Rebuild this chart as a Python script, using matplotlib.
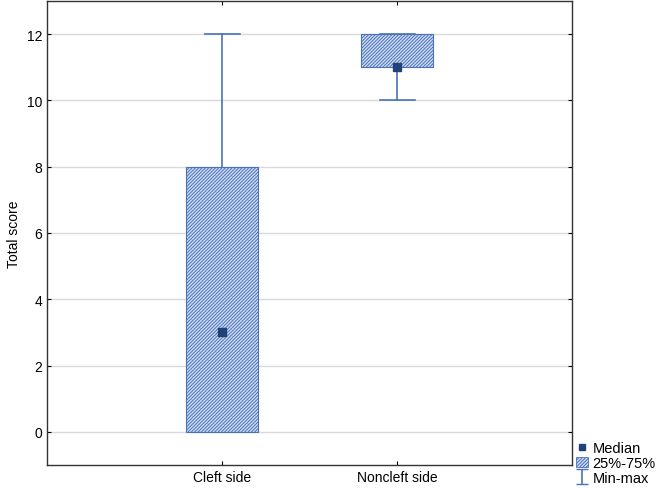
import matplotlib
matplotlib.use('Agg')
import matplotlib.pyplot as plt
from matplotlib.patches import Rectangle
from matplotlib.lines import Line2D

plt.rcParams['font.family'] = ['Liberation Sans', 'DejaVu Sans']
plt.rcParams['hatch.linewidth'] = 0.7

# data
groups = ['Cleft side', 'Noncleft side']
medians = [3, 11]
q1 = [0, 11]
q3 = [8, 12]
mins = [0, 10]
maxs = [12, 12]
yticks = [0, 2, 4, 6, 8, 10, 12]

edge = '#4a72b8'
fill = '#cfdcf3'
dark = '#1f4379'
hatch = '/' * 10

fig = plt.figure(figsize=(6.57, 4.89), dpi=100)
ax = fig.add_axes([47 / 657, 1 - 466 / 489, 525 / 657, 464 / 489])

box_w = 0.41
cap_w = 0.2
for i in range(len(groups)):
    x = i + 1
    # whiskers
    ax.plot([x, x], [mins[i], q1[i]], color=edge, lw=1.2, zorder=2)
    ax.plot([x, x], [q3[i], maxs[i]], color=edge, lw=1.2, zorder=2)
    ax.plot([x - cap_w / 2, x + cap_w / 2], [mins[i]] * 2, color=edge, lw=1.2, zorder=2)
    ax.plot([x - cap_w / 2, x + cap_w / 2], [maxs[i]] * 2, color=edge, lw=1.2, zorder=2)
    # box
    ax.add_patch(Rectangle((x - box_w / 2, q1[i]), box_w, q3[i] - q1[i],
                           facecolor=fill, edgecolor=edge, hatch=hatch,
                           lw=0.8, zorder=3))
    # median
    ax.plot(x, medians[i], marker='s', ms=6, color=dark, ls='none', zorder=4)

ax.set_xlim(0, 3)
ax.set_ylim(-1, 13)
ax.set_xticks([1, 2])
ax.set_xticklabels(groups)
ax.set_yticks(yticks)
ax.set_ylabel('Total score', fontsize=10)
ax.yaxis.grid(True, color='#d9d9d9', lw=1)
ax.set_axisbelow(True)
ax.tick_params(direction='in', top=True, right=True, labelsize=10, length=3)
for s in ax.spines.values():
    s.set_linewidth(1.0)
    s.set_color('#333333')

# legend handles (errorbar drawn off-axis only to get a capped handle)
h_med = Line2D([], [], marker='s', ms=5, color=dark, ls='none')
h_box = Rectangle((0, 0), 1, 1, facecolor=fill, edgecolor=edge, hatch=hatch, lw=0.6)
h_rng = ax.errorbar([-5], [-5], yerr=[1], fmt='none', ecolor=edge, capsize=4, lw=1.2)
fig.legend([h_med, h_box, h_rng], ['Median', '25%-75%', 'Min-max'],
           loc='lower left', bbox_to_anchor=(575 / 657, 2 / 489),
           frameon=False, fontsize=10.5, handlelength=0.8, handletextpad=0.3,
           labelspacing=0.05, borderpad=0.1, borderaxespad=0)

fig.savefig('out.png', dpi=100)
